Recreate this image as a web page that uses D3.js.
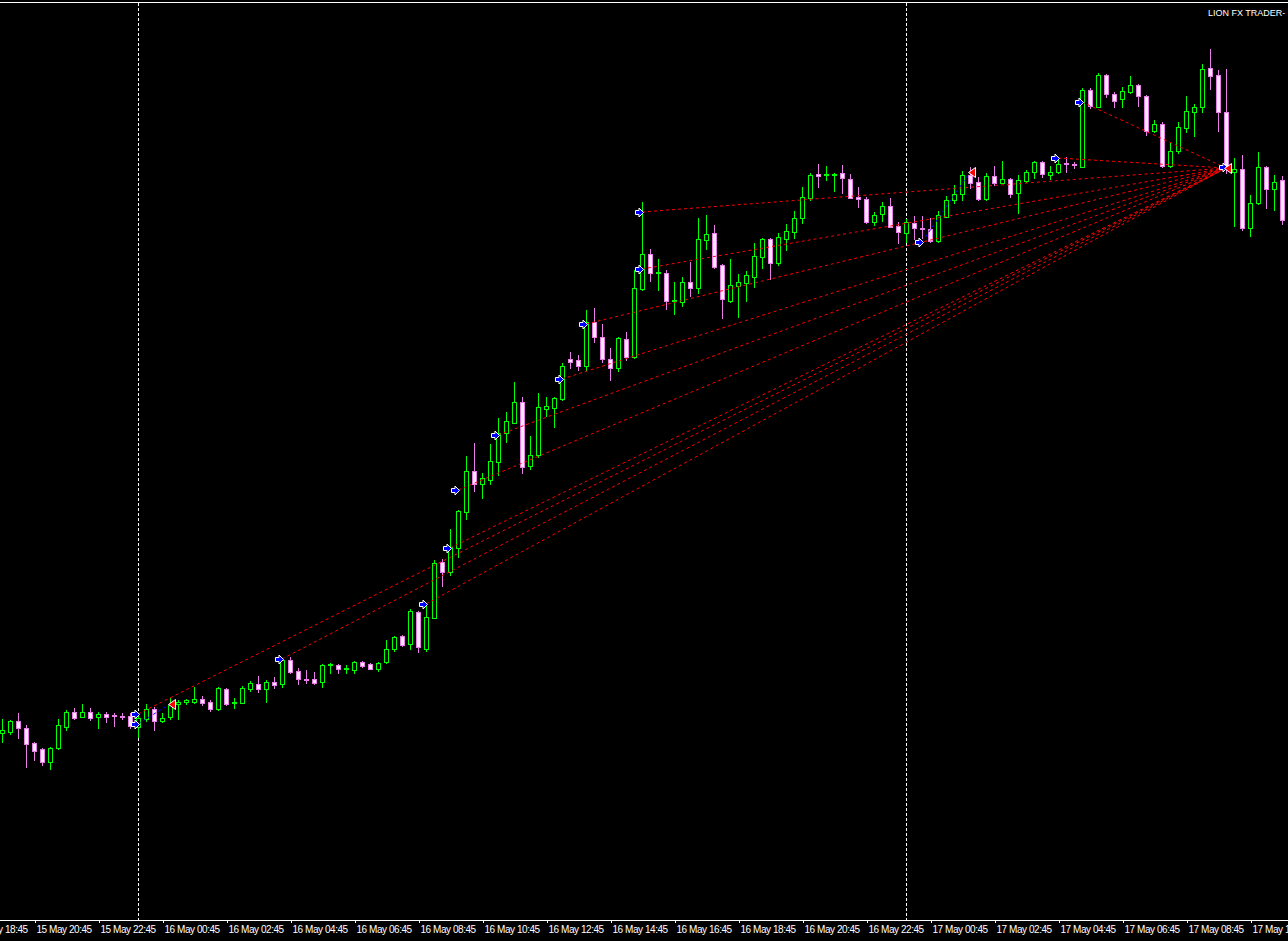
<!DOCTYPE html>
<html><head><meta charset="utf-8">
<script src="https://cdn.jsdelivr.net/npm/d3@7"></script>
<style>html,body{margin:0;padding:0;background:#000;overflow:hidden}svg{display:block}</style>
</head><body>
<svg id="chart" width="1288" height="941"></svg>
<script>
// ---- data (15-minute bars) ----
const firstBar = "2024-05-15 19:45";
const barMinutes = 15;
const opens = [154.267,154.268,154.279,154.272,154.257,154.251,154.238,154.252,154.273,154.288,
154.283,154.288,154.283,154.286,154.285,154.284,154.284,154.273,154.281,154.291,
154.279,154.283,154.296,154.298,154.298,154.301,154.298,154.291,154.311,154.297,
154.297,154.311,154.316,154.311,154.318,154.316,154.340,154.329,154.321,154.321,
154.318,154.335,154.335,154.331,154.330,154.338,154.336,154.331,154.338,154.351,
154.364,154.356,154.388,154.351,154.382,154.438,154.428,154.452,154.488,154.529,
154.516,154.520,154.538,154.567,154.577,154.598,154.534,154.545,154.591,154.592,
154.601,154.641,154.640,154.634,154.678,154.663,154.641,154.632,154.661,154.643,
154.711,154.746,154.727,154.727,154.699,154.698,154.718,154.712,154.760,154.767,
154.735,154.699,154.714,154.717,154.723,154.743,154.761,154.737,154.761,154.768,
154.782,154.802,154.826,154.825,154.825,154.827,154.821,154.803,154.801,154.778,
154.786,154.794,154.774,154.767,154.777,154.772,154.771,154.759,154.783,154.800,
154.806,154.825,154.818,154.801,154.824,154.817,154.821,154.807,154.819,154.828,
154.838,154.825,154.828,154.837,154.836,154.833,154.910,154.893,154.925,154.906,
154.901,154.908,154.915,154.904,154.869,154.876,154.834,154.849,154.872,154.888,
154.893,154.932,154.925,154.888,154.828,154.831,154.772,154.797,154.833,154.811,
154.820];
const highs = [154.281,154.280,154.287,154.275,154.258,154.252,154.253,154.281,154.290,154.292,
154.296,154.292,154.288,154.288,154.287,154.287,154.287,154.284,154.296,154.293,
154.287,154.302,154.300,154.301,154.313,154.304,154.300,154.313,154.312,154.302,
154.314,154.319,154.324,154.320,154.323,154.342,154.343,154.332,154.330,154.328,
154.336,154.337,154.336,154.335,154.339,154.339,154.337,154.338,154.360,154.364,
154.365,154.391,154.389,154.395,154.440,154.441,154.471,154.490,154.544,154.557,
154.527,154.556,154.582,154.588,154.618,154.603,154.564,154.607,154.603,154.603,
154.637,154.648,154.645,154.690,154.692,154.676,154.652,154.663,154.668,154.730,
154.798,154.751,154.741,154.730,154.718,154.723,154.738,154.782,154.785,154.775,
154.736,154.741,154.726,154.729,154.757,154.762,154.762,154.767,154.776,154.789,
154.813,154.827,154.836,154.834,154.827,154.835,154.826,154.813,154.803,154.788,
154.798,154.802,154.778,154.781,154.784,154.784,154.782,154.789,154.804,154.815,
154.829,154.833,154.823,154.827,154.834,154.839,154.822,154.825,154.830,154.839,
154.839,154.834,154.840,154.843,154.838,154.912,154.912,154.927,154.926,154.908,
154.913,154.924,154.916,154.905,154.880,154.878,154.857,154.878,154.904,154.896,
154.936,154.951,154.930,154.931,154.842,154.845,154.805,154.848,154.834,154.825,
154.824];
const lows = [154.258,154.266,154.262,154.233,154.240,154.235,154.231,154.251,154.270,154.281,
154.283,154.280,154.272,154.278,154.274,154.281,154.272,154.263,154.279,154.270,
154.278,154.281,154.281,154.296,154.297,154.295,154.289,154.290,154.295,154.292,
154.297,154.309,154.308,154.298,154.312,154.313,154.327,154.316,154.317,154.316,
154.313,154.327,154.327,154.327,154.327,154.333,154.331,154.329,154.337,154.349,
154.354,154.351,154.348,154.349,154.382,154.414,154.425,154.443,154.481,154.509,
154.502,154.516,154.525,154.558,154.577,154.527,154.531,154.543,154.584,154.573,
154.600,154.632,154.630,154.630,154.658,154.638,154.620,154.629,154.640,154.642,
154.710,154.719,154.710,154.691,154.686,154.694,154.704,154.707,154.751,154.732,
154.682,154.698,154.683,154.699,154.713,154.732,154.721,154.735,154.750,154.762,
154.777,154.800,154.813,154.820,154.809,154.807,154.802,154.793,154.777,154.775,
154.779,154.773,154.757,154.758,154.761,154.762,154.758,154.758,154.783,154.797,
154.800,154.812,154.800,154.800,154.815,154.817,154.803,154.787,154.818,154.822,
154.823,154.821,154.827,154.828,154.832,154.833,154.892,154.893,154.903,154.893,
154.893,154.907,154.894,154.865,154.868,154.833,154.833,154.847,154.868,154.864,
154.888,154.911,154.869,154.827,154.774,154.770,154.764,154.796,154.792,154.790,
154.776];
const closes = [154.270,154.279,154.272,154.256,154.249,154.238,154.252,154.275,154.288,154.282,
154.288,154.282,154.286,154.283,154.284,154.283,154.274,154.282,154.291,154.279,
154.282,154.295,154.298,154.300,154.301,154.297,154.291,154.312,154.296,154.298,
154.312,154.317,154.311,154.318,154.315,154.340,154.328,154.321,154.320,154.317,
154.335,154.336,154.331,154.332,154.338,154.334,154.331,154.337,154.351,154.363,
154.355,154.389,154.353,154.383,154.437,154.428,154.453,154.489,154.529,154.516,
154.522,154.539,154.567,154.579,154.598,154.533,154.545,154.593,154.594,154.602,
154.634,154.638,154.634,154.678,154.663,154.641,154.632,154.662,154.643,154.712,
154.746,154.727,154.728,154.699,154.700,154.718,154.712,154.761,154.766,154.733,
154.701,154.715,154.718,154.725,154.744,154.761,154.737,154.763,154.769,154.782,
154.803,154.825,154.824,154.826,154.826,154.822,154.802,154.801,154.778,154.785,
154.794,154.773,154.768,154.778,154.772,154.771,154.759,154.785,154.800,154.806,
154.825,154.817,154.801,154.824,154.817,154.821,154.806,154.820,154.828,154.838,
154.826,154.828,154.836,154.836,154.835,154.910,154.894,154.925,154.906,154.899,
154.909,154.915,154.904,154.869,154.876,154.834,154.849,154.873,154.889,154.893,
154.931,154.924,154.888,154.834,154.831,154.772,154.797,154.833,154.811,154.818,
154.780];

// time-axis labels
const tickLabels = ["2024-05-15 18:45","2024-05-15 20:45","2024-05-15 22:45","2024-05-16 00:45",
"2024-05-16 02:45","2024-05-16 04:45","2024-05-16 06:45","2024-05-16 08:45","2024-05-16 10:45",
"2024-05-16 12:45","2024-05-16 14:45","2024-05-16 16:45","2024-05-16 18:45","2024-05-16 20:45",
"2024-05-16 22:45","2024-05-17 00:45","2024-05-17 02:45","2024-05-17 04:45","2024-05-17 06:45",
"2024-05-17 08:45","2024-05-17 10:45"];
const daySeparators = ["2024-05-16 00:00","2024-05-17 00:00"];

// trade history (sell-side dashed red lines into a common close)
const redOpenTimes = ["2024-05-16 00:00","2024-05-16 04:30","2024-05-16 09:00","2024-05-16 09:45",
"2024-05-16 10:00","2024-05-16 11:15","2024-05-16 13:15","2024-05-16 14:00","2024-05-16 15:45",
"2024-05-16 15:45","2024-05-17 04:45","2024-05-17 05:30"];
const redOpenPrices = [154.286,154.341,154.396,154.452,154.510,154.565,154.621,154.676,154.788,154.731,154.842,154.898];
const redCloseTime = "2024-05-17 10:00";
const redClosePrice = 154.832;
// short blue trades
const blueOpenTimes = ["2024-05-16 00:00","2024-05-17 00:30"];
const blueOpenPrices = [154.276,154.758];
const blueCloseTimes = ["2024-05-16 01:00","2024-05-17 02:00"];
const blueClosePrices = [154.296,154.828];
// last open arrow at the common close
const lastOpenTime = "2024-05-17 10:00";
const lastOpenPrice = 154.833;
const brokerLabel = "LION FX TRADER-";

// ---- drawing ----
const W = 1288, H = 941, plotBottom = 920;
const parse = d3.timeParse("%Y-%m-%d %H:%M");
const t0 = parse(firstBar);
const bars = opens.map((o,i)=>({t:d3.timeMinute.offset(t0, barMinutes*i), o, h:highs[i], l:lows[i], c:closes[i]}));

const x = d3.scaleTime().domain([bars[0].t, bars[bars.length-1].t]).range([2, 2 + 8*(bars.length-1)]);
const y = d3.scaleLinear().domain([154.080, 155.000]).range([plotBottom, 0]);

const svg = d3.select("#chart");
svg.append("rect").attr("width",W).attr("height",H).attr("fill","#000");

// top border
svg.append("line").attr("x1",0).attr("x2",W).attr("y1",2.5).attr("y2",2.5)
  .attr("stroke","#fff").attr("stroke-width",1).attr("shape-rendering","crispEdges");

// day separators
svg.append("g").selectAll("line").data(daySeparators.map(parse)).join("line")
  .attr("x1",d=>Math.round(x(d))+0.5).attr("x2",d=>Math.round(x(d))+0.5)
  .attr("y1",3).attr("y2",plotBottom)
  .attr("stroke","#fff").attr("stroke-dasharray","3,2").attr("shape-rendering","crispEdges");

// candles
const BULL = "#00ff00", BEAR = "#e97ee9", BEARFILL = "#ffe8ff";
const cg = svg.append("g").attr("shape-rendering","crispEdges");
const cand = cg.selectAll("g").data(bars).join("g");
cand.append("line")
  .attr("x1",d=>Math.round(x(d.t))+0.5).attr("x2",d=>Math.round(x(d.t))+0.5)
  .attr("y1",d=>Math.round(y(d.h))).attr("y2",d=>Math.round(y(d.l))+1)
  .attr("stroke",d=>d.c>=d.o?BULL:BEAR);
cand.append("path")
  .attr("d",d=>{
    const xc = Math.round(x(d.t));
    const x0 = xc-2+0.5, x1 = xc+2+0.5;
    const yt = Math.round(y(Math.max(d.o,d.c)))+0.5, yb = Math.round(y(Math.min(d.o,d.c)))+0.5;
    return `M${x0},${yt}H${x1}V${yb}H${x0}Z`;
  })
  .attr("fill",d=>d.c>=d.o?"#000":BEARFILL)
  .attr("stroke",d=>d.c>=d.o?BULL:BEAR);

// trade lines
const tg = svg.append("g");
const rc = parse(redCloseTime);
tg.selectAll("line.red").data(redOpenTimes.map((t,i)=>({t:parse(t),p:redOpenPrices[i]}))).join("line")
  .attr("class","red")
  .attr("x1",d=>x(d.t)).attr("y1",d=>y(d.p))
  .attr("x2",x(rc)).attr("y2",y(redClosePrice))
  .attr("stroke","#ff0000").attr("stroke-width",1).attr("stroke-dasharray","3,3");
tg.selectAll("line.blue").data(blueOpenTimes.map((t,i)=>({t:parse(t),p:blueOpenPrices[i],ct:parse(blueCloseTimes[i]),cp:blueClosePrices[i]}))).join("line")
  .attr("class","blue")
  .attr("x1",d=>x(d.t)).attr("y1",d=>y(d.p))
  .attr("x2",d=>x(d.ct)).attr("y2",d=>y(d.cp))
  .attr("stroke","#0000ff").attr("stroke-width",1).attr("stroke-dasharray","3,3");

// arrows
const buyArrow = "M-7,-2H-3.5V-4.5L1,0L-3.5,4.5V2H-7Z";
const closeArrow = "M-2,0L5,-5V5Z";
const openPts = redOpenTimes.map((t,i)=>({t:parse(t),p:redOpenPrices[i]}))
  .concat(blueOpenTimes.map((t,i)=>({t:parse(t),p:blueOpenPrices[i]})))
  .concat([{t:parse(lastOpenTime),p:lastOpenPrice}]);
const closePts = blueCloseTimes.map((t,i)=>({t:parse(t),p:blueClosePrices[i]}))
  .concat([{t:rc,p:redClosePrice}]);
const ag = svg.append("g");
ag.selectAll("path.buy").data(openPts).join("path").attr("class","buy")
  .attr("d",buyArrow)
  .attr("transform",d=>`translate(${Math.round(x(d.t))+0.5},${Math.round(y(d.p))+0.5})`)
  .attr("fill","#0000ff").attr("stroke","#fff").attr("stroke-width",1);
ag.selectAll("path.cls").data(closePts).join("path").attr("class","cls")
  .attr("d",closeArrow)
  .attr("transform",d=>`translate(${Math.round(x(d.t))+0.5},${Math.round(y(d.p))+0.5})`)
  .attr("fill","#ff0000").attr("stroke","#fff").attr("stroke-width",1);

// bottom time axis
const fmt = d3.timeFormat("%d %b %H:%M");
const axis = d3.axisBottom(x).tickValues(tickLabels.map(parse)).tickFormat(fmt).tickSize(3).tickSizeOuter(0);
const ax = svg.append("g").attr("transform",`translate(0,${plotBottom})`).call(axis);
ax.select(".domain").remove();
ax.selectAll(".tick line").attr("stroke","#fff").attr("shape-rendering","crispEdges")
  .attr("transform","translate(0.5,0)");
ax.selectAll(".tick text").attr("fill","#fff").attr("text-anchor","start")
  .attr("x",2).attr("y",13).attr("dy",null)
  .style("font-family","'Liberation Sans', Arial, sans-serif").style("font-size","10px")
  .style("letter-spacing","-0.45px");
svg.append("line").attr("x1",0).attr("x2",W).attr("y1",plotBottom+0.5).attr("y2",plotBottom+0.5)
  .attr("stroke","#fff").attr("shape-rendering","crispEdges");

// broker label
svg.append("text").attr("x",1208).attr("y",16).text(brokerLabel)
  .attr("fill","#fff").style("font-family","'Liberation Sans', Arial, sans-serif").style("font-size","9px");
</script>
</body></html>
